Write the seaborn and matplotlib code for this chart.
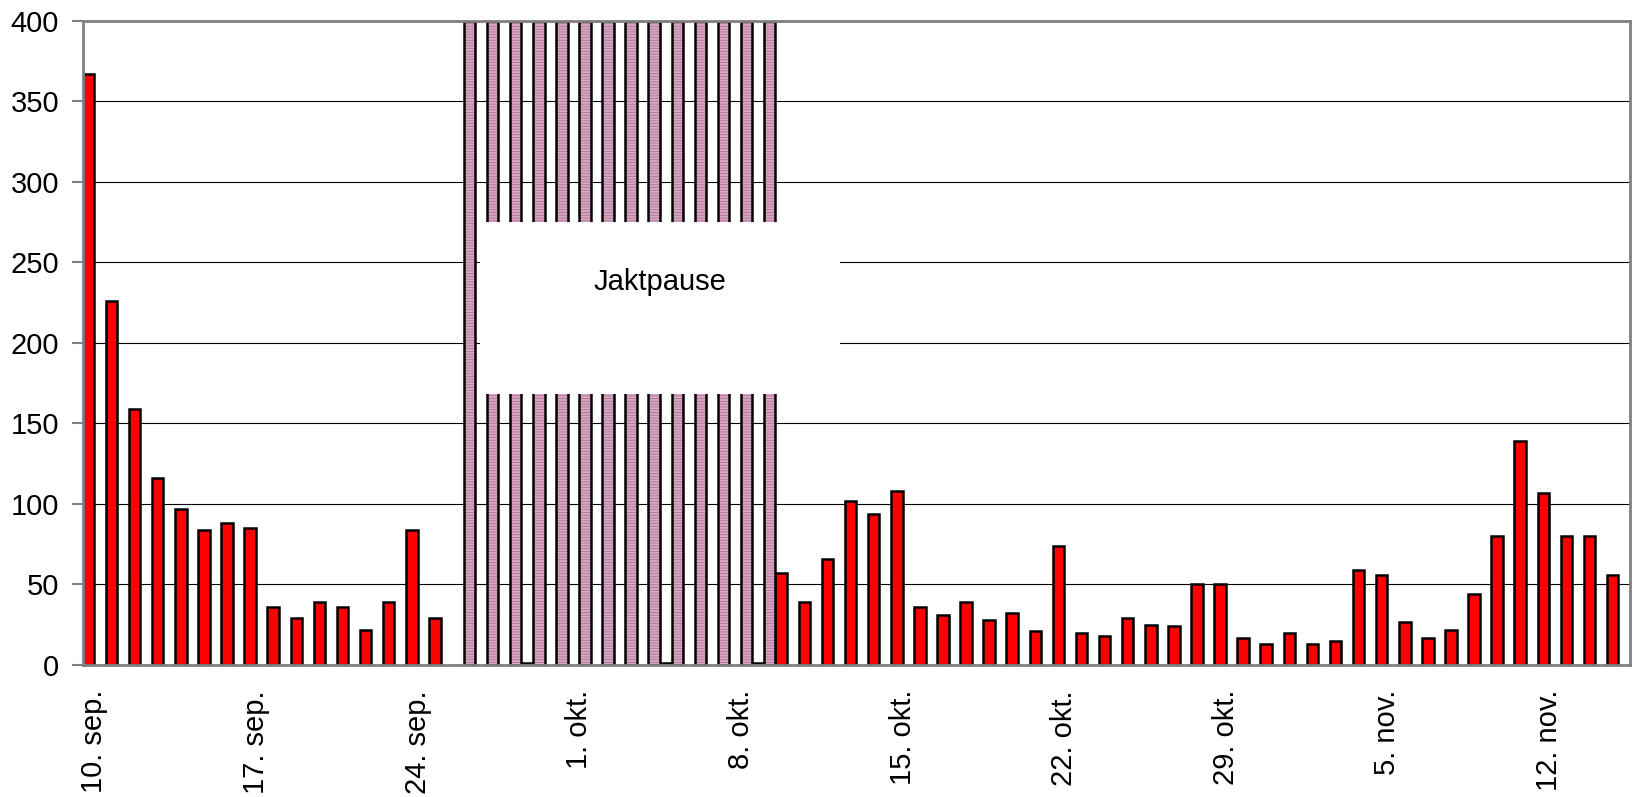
import pandas as pd
import numpy as np
import matplotlib
matplotlib.use("Agg")
import matplotlib.pyplot as plt
from matplotlib.patches import Rectangle
import seaborn as sns

# daily categories, 10 sep - 15 nov
dates = pd.date_range("2007-09-10", "2007-11-15", freq="D")

# red series: before the pause (10.-25. sep)
red_before = [367, 226, 159, 116, 97, 84, 88, 85, 36, 29, 39, 36, 22, 39, 84, 29]
# during the pause (26. sep - 9. okt)
red_pause = [0, 0, 0, 1, 0, 0, 0, 0, 0, 1, 0, 0, 0, 1]
# after the pause (10. okt - 15. nov)
red_after = [57, 39, 66, 102, 94, 108, 36, 31, 39, 28, 32, 21, 74, 20, 18, 29,
             25, 24, 50, 50, 17, 13, 20, 13, 15, 59, 56, 27, 17, 22, 44, 80,
             139, 107, 80, 80, 56]
red_values = red_before + red_pause + red_after

# pause marker bars (off the scale)
pause_values = [np.nan] * len(red_before) + [400] * len(red_pause) + [np.nan] * len(red_after)

tick_labels = ["10. sep.", "17. sep.", "24. sep.", "1. okt.", "8. okt.",
               "15. okt.", "22. okt.", "29. okt.", "5. nov.", "12. nov."]

cats = [d.strftime("%Y-%m-%d") for d in dates]
df = pd.DataFrame({
    "dato": cats * 2,
    "antall": red_values + pause_values,
    "serie": ["felt"] * len(cats) + ["pause"] * len(cats),
})

sns.set_style("white")
plt.rcParams["font.family"] = ["Liberation Sans", "DejaVu Sans"]
plt.rcParams["hatch.linewidth"] = 0.6
plt.rcParams["text.color"] = "black"
plt.rcParams["xtick.labelcolor"] = "black"
plt.rcParams["ytick.labelcolor"] = "black"

fig = plt.figure(figsize=(16.37, 7.97), dpi=100)
ax = fig.add_axes([0.0505, 0.1656, 0.9452, 0.8084])

sns.barplot(data=df, x="dato", y="antall", hue="serie", order=cats,
            hue_order=["felt", "pause"], palette={"felt": "#ff0000", "pause": "#dba6c4"},
            saturation=1, width=1.0, gap=0, dodge=True, errorbar=None, legend=False,
            edgecolor="black", linewidth=1.8, ax=ax)

# hide zero-height bars
for p in ax.containers[0]:
    if p.get_height() == 0:
        p.set_linewidth(0)

# pink bars: fine horizontal hatch, black outline drawn on top
for p in ax.containers[1]:
    if np.isnan(p.get_height()):
        continue
    p.set_hatch("-" * 6)
    p.set_edgecolor("#a87890")
    p.set_linewidth(0)
    ax.add_patch(Rectangle(p.get_xy(), p.get_width(), p.get_height(),
                           fill=False, edgecolor="black", linewidth=1.8, zorder=2))

ax.set_ylim(0, 400)
ax.set_xlim(-0.5, len(cats) - 0.5)
ax.set_yticks(range(0, 401, 50))
ax.yaxis.grid(True, color="black", linewidth=0.8)
ax.set_axisbelow(True)

# labels centred on the day, tick marks on the day's left boundary
label_pos = list(range(0, len(cats), 7))
ax.set_xticks(label_pos)
ax.set_xticklabels(tick_labels, rotation=90, fontsize=21)
ax.set_xticks([i - 0.5 for i in label_pos], minor=True)
ax.tick_params(axis="x", which="major", length=0, pad=18)
ax.tick_params(axis="x", which="minor", length=8, width=1.5, color="#808080", direction="out")
ax.tick_params(axis="y", length=8, width=1.5, color="#808080", direction="out",
               labelsize=21, pad=9, left=True)

ax.set_xlabel("")
ax.set_ylabel("")
for s in ax.spines.values():
    s.set_visible(True)
    s.set_color("#808080")
    s.set_linewidth(2)

# "Jaktpause" text box
ax.add_patch(Rectangle((16.7, 168), 15.6, 107, facecolor="white", edgecolor="none", zorder=3))
ax.text(24.5, 238, "Jaktpause", ha="center", va="center", fontsize=21, zorder=4)

fig.savefig("out.png", dpi=100)
